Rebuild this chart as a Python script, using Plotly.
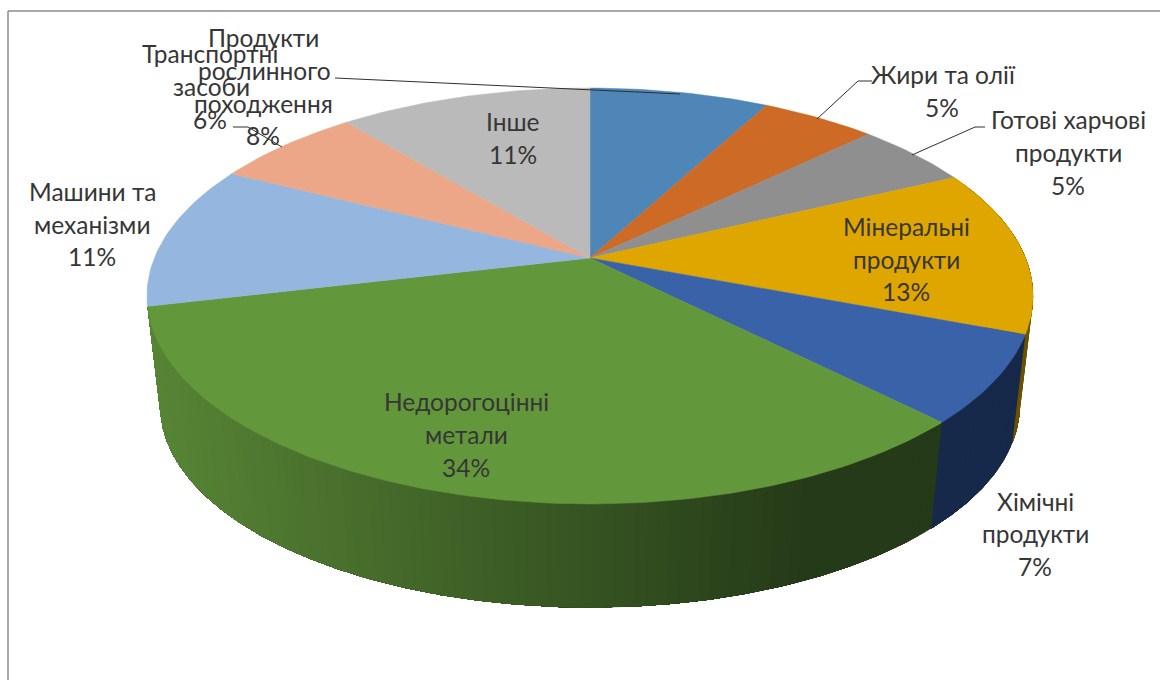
import math
import plotly.graph_objects as go

# Slice shares (clockwise from 12 o'clock)
slice_names = ["Продукти рослинного походження", "Жири та олії", "Готові харчові продукти",
               "Мінеральні продукти", "Хімічні продукти", "Недорогоцінні метали",
               "Машини та механізми", "Транспортні засоби", "Інше"]
slice_values = [7.8, 5.0, 5.1, 12.9, 6.8, 33.7, 11.2, 6.5, 11.0]
top_colors = ["#4f86b8", "#cd6a26", "#8f8f8f", "#e0a600", "#3a62a8", "#62973b", "#95b6de", "#eca688", "#bababa"]
wall_left = {3: "#6b5200", 4: "#16294a", 5: "#578535"}
wall_right = {3: "#6b5200", 4: "#16294a", 5: "#253a18"}

# Label lines: text, x centre, y centre
label_lines = [
    ("Транспортні", 210, 54), ("засоби", 211, 87), ("6%", 210, 120),
    ("Продукти", 263, 38), ("рослинного", 264, 71), ("походження", 263, 104), ("8%", 263, 136),
    ("Жири та олії", 943, 75), ("5%", 942, 108),
    ("Готові харчові", 1068, 120), ("продукти", 1068, 153), ("5%", 1068, 186),
    ("Мінеральні", 906, 227), ("продукти", 906, 260), ("13%", 906, 292),
    ("Хімічні", 1035, 502), ("продукти", 1035, 534), ("7%", 1035, 567),
    ("Недорогоцінні", 466, 402), ("метали", 466, 435), ("34%", 466, 468),
    ("Машини та", 92, 192), ("механізми", 92, 225), ("11%", 92, 257),
    ("Інше", 513, 122), ("11%", 513, 155),
]
leaders = [
    ([335, 680], [78, 94]),
    ([233, 248, 282], [127, 127, 147]),
    ([872, 858, 817], [81, 81, 119]),
    ([985, 975, 912], [127, 127, 155]),
]

# Projection of the tilted disc onto the canvas
CX, CY, R, H, K = 590, 258, 435.6, 201, 0.1827
CY_LOW, S_LOW = 369, 0.97


def rim(frac, low=False):
    a = 2 * math.pi * frac
    u, v = math.sin(a), math.cos(a)
    w = 1 + K * v
    s = S_LOW if low else 1.0
    return CX + s * R * u / w, (CY_LOW if low else CY) - s * H * v / w


def mix(c1, c2, t):
    a = [int(c1[i:i + 2], 16) for i in (1, 3, 5)]
    b = [int(c2[i:i + 2], 16) for i in (1, 3, 5)]
    return "#%02x%02x%02x" % tuple(round(p + (q - p) * t) for p, q in zip(a, b))


fig = go.Figure()


def poly(xs, ys, color, lw=0.0):
    fig.add_trace(go.Scatter(x=xs, y=ys, mode="lines", fill="toself", fillcolor=color,
                             line=dict(color=color, width=lw), hoverinfo="skip", showlegend=False))


edges = [0.0]
for val in slice_values:
    edges.append(edges[-1] + val / sum(slice_values))

# Side walls. Each band runs on to the end of its slice, and the next band paints over the rest,
# so the shading has no seams.
for i in wall_left:
    span = edges[i + 1] - edges[i]
    n = max(2, int(span * 300))
    for j in range(n):
        f0 = edges[i] + span * j / n
        f1 = edges[i] + span * (j + 1) / n
        m = (n - j) * 3
        pts = [f0 + (edges[i + 1] - f0) * q / m for q in range(m + 1)]
        top = [rim(p) for p in pts]
        low = [rim(p, True) for p in pts]
        mx = (rim((f0 + f1) / 2)[0] - 147) / (810 - 147)
        colr = mix(wall_right[i], wall_left[i], 1 - min(max(mx, 0), 1))
        poly([p[0] for p in top] + [p[0] for p in low[::-1]],
             [p[1] for p in top] + [p[1] for p in low[::-1]], colr)

# Top faces
for i, col in enumerate(top_colors):
    n = max(4, int((edges[i + 1] - edges[i]) * 300))
    pts = [rim(edges[i] + (edges[i + 1] - edges[i]) * q / n) for q in range(n + 1)]
    poly([CX] + [p[0] for p in pts] + [CX], [CY] + [p[1] for p in pts] + [CY], col, 0.5)

# Leader lines
for xs, ys in leaders:
    fig.add_trace(go.Scatter(x=xs, y=ys, mode="lines", line=dict(color="#2f2f2f", width=1),
                             hoverinfo="skip", showlegend=False))

for text, x, y in label_lines:
    fig.add_annotation(x=x, y=y, text=text, showarrow=False, xanchor="center", yanchor="middle", yshift=1,
                       font=dict(family="Lato, Open Sans", size=24.5, color="#363636"))

# Chart frame
fig.add_shape(type="line", x0=8, x1=8, y0=11, y1=680, line=dict(color="#8c8c8c", width=1.5))
fig.add_shape(type="line", x0=8, x1=1160, y0=11, y1=11, line=dict(color="#8c8c8c", width=1.5))

fig.update_layout(width=1160, height=680, margin=dict(l=0, r=0, t=0, b=0),
                  paper_bgcolor="white", plot_bgcolor="white", showlegend=False,
                  xaxis=dict(range=[0, 1160], visible=False, fixedrange=True),
                  yaxis=dict(range=[680, 0], visible=False, fixedrange=True))
fig.write_html("out.html", config={"displayModeBar": False},
               post_script="document.body.style.margin='0';document.documentElement.style.overflow='hidden';")
